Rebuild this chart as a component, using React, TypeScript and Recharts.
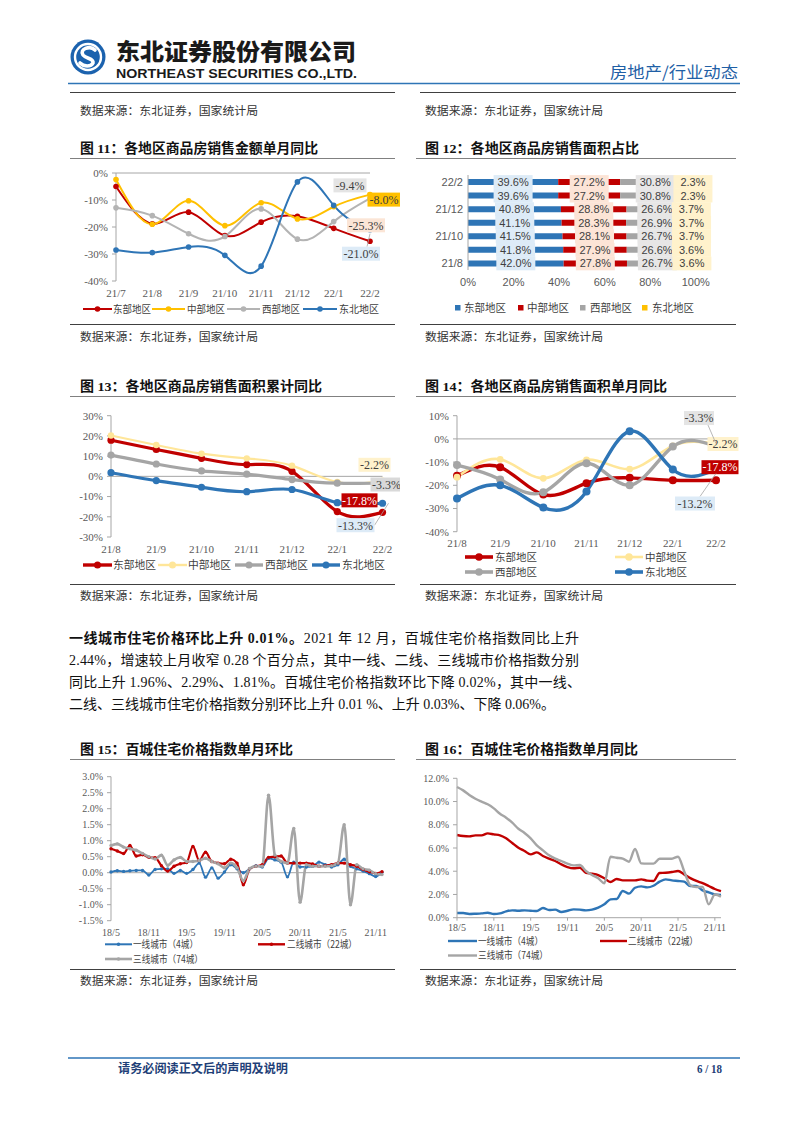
import { LineChart, Line, BarChart, Bar, XAxis, YAxis, ReferenceLine, LabelList } from 'recharts';

const SERIF = "'Liberation Serif', 'Times New Roman', 'Noto Sans CJK SC', serif";
const CJK = "'Noto Sans CJK SC', 'Noto Sans', sans-serif";
const SANS = "'Liberation Sans', Arial, 'Noto Sans CJK SC', sans-serif";

const RED = '#C00000';
const ORANGE = '#FFC000';
const PALE = '#FFE699';
const GREY = '#A5A5A5';
const BLUE = '#2E75B6';
const AXIS = '#A6A6A6';
const INK = '#595959';

const regions = ['东部地区', '中部地区', '西部地区', '东北地区'];
const tiers = ['一线城市（4城）', '二线城市（22城）', '三线城市（74城）'];
const source = '数据来源：东北证券，国家统计局';

// 图11 各地区商品房销售金额单月同比 (%)
const amtMonths = ['21/7', '21/8', '21/9', '21/10', '21/11', '21/12', '22/1', '22/2'];
const amtEast = [-5.0, -18.8, -14.5, -23.2, -18.2, -16.0, -20.5, -25.3];
const amtCentral = [-2.4, -19.0, -10.3, -19.5, -11.0, -17.0, -12.5, -8.0];
const amtWest = [-12.9, -15.8, -22.5, -23.5, -13.3, -24.5, -18.0, -9.4];
const amtNortheast = [-28.5, -29.5, -27.4, -30.5, -34.5, -3.3, -12.0, -21.0];

// 图12 各地区商品房销售面积占比 (%)
const shareMonths = ['22/2', '22/1', '21/12', '21/11', '21/10', '21/9', '21/8'];
const shareEast = [39.6, 39.6, 40.8, 41.1, 41.5, 41.8, 42.0];
const shareCentral = [27.2, 27.2, 28.8, 28.3, 28.1, 27.9, 27.8];
const shareWest = [30.8, 30.8, 26.6, 26.9, 26.7, 26.6, 26.7];
const shareNortheast = [2.3, 2.3, 3.7, 3.7, 3.7, 3.6, 3.6];

// 图13 各地区商品房销售面积累计同比 (%)
const cumMonths = ['21/8', '21/9', '21/10', '21/11', '21/12', '22/1', '22/2'];
const cumEast = [17.9, 13.3, 8.9, 5.8, 2.5, -17.4, -17.8];
const cumCentral = [20.2, 15.5, 11.2, 8.9, 5.3, -2.8, -2.2];
const cumWest = [10.5, 6.1, 2.7, 1.1, -1.6, -3.4, -3.3];
const cumNortheast = [1.8, -2.1, -5.4, -7.6, -6.5, -13.0, -13.3];

// 图14 各地区商品房销售面积单月同比 (%)
const monMonths = ['21/8', '21/9', '21/10', '21/11', '21/12', '22/1', '22/2'];
const monEast = [-15.9, -12.2, -24.0, -19.1, -16.8, -17.8, -17.8];
const monCentral = [-16.5, -8.8, -17.0, -9.0, -13.0, -3.0, -2.2];
const monWest = [-11.3, -17.5, -23.0, -10.5, -20.0, -3.3, -3.3];
const monNortheast = [-25.7, -20.0, -29.6, -22.7, 3.3, -13.2, -13.2];

// 图15/16 百城住宅价格指数
const hpiMonths = [
  '18/5', '18/6', '18/7', '18/8', '18/9', '18/10', '18/11', '18/12', '19/1', '19/2', '19/3',
  '19/4', '19/5', '19/6', '19/7', '19/8', '19/9', '19/10', '19/11', '19/12', '20/1', '20/2',
  '20/3', '20/4', '20/5', '20/6', '20/7', '20/8', '20/9', '20/10', '20/11', '20/12', '21/1',
  '21/2', '21/3', '21/4', '21/5', '21/6', '21/7', '21/8', '21/9', '21/10', '21/11', '21/12',
];
const momTicks = [-1.5, -1, -0.5, 0, 0.5, 1, 1.5, 2, 2.5, 3];
const momTier1 = [
  0.02, 0.06, 0.04, 0.06, 0.07, 0.07, -0.07, 0.1, 0.12, 0.12, -0.02, 0.07, -0.02, 0.1, 0.3,
  -0.14, 0.15, -0.17, 0.02, 0.25, 0.12, 0.0, 0.12, 0.22, 0.18, 0.45, 0.4, 0.33, -0.13, 0.33,
  0.18, 0.18, 0.2, 0.33, 0.25, 0.18, 0.25, 0.42, 0.2, 0.12, 0.05, -0.03, -0.12, 0.01,
];
const momTier2 = [
  0.75, 0.68, 0.6, 0.85, 0.52, 0.56, 0.48, 0.47, 0.22, 0.05, 0.2, 0.28, 0.32, 0.82, 0.38,
  0.64, 0.35, 0.3, 0.28, 0.42, 0.3, -0.38, 0.12, 0.2, 0.25, 0.48, 0.5, 0.52, 0.3, 0.3,
  0.3, 0.3, 0.27, 0.2, 0.22, 0.25, 0.3, 0.3, 0.25, 0.2, 0.1, 0.03, -0.02, 0.03,
];
const momTier3 = [
  0.85, 0.9, 0.8, 0.75, 0.7, 0.6, 0.5, 0.43, 0.55, 0.23, 0.4, 0.48, 0.35, 0.35, 0.38,
  0.45, 0.35, 0.28, 0.15, 0.3, 0.15, -0.25, 0.13, 0.2, 0.2, 2.42, 0.55, 0.35, 0.3, 1.38,
  -0.92, 0.25, 0.2, 0.2, 0.2, 0.22, 0.3, 1.5, -1.0, 0.25, 0.12, 0.08, -0.03, -0.06,
];
const yoyTier1 = [
  0.4, 0.4, 0.32, 0.34, 0.37, 0.43, 0.32, 0.37, 0.55, 0.63, 0.6, 0.63, 0.6, 0.57, 0.83,
  0.66, 0.69, 0.49, 0.6, 0.72, 0.69, 0.63, 0.69, 0.86, 1.15, 1.58, 1.61, 2.3, 2.07, 2.58,
  2.7, 2.61, 2.75, 3.1, 3.3, 3.21, 3.16, 3.1, 2.73, 2.73, 2.35, 2.18, 2.0, 1.96,
];
const yoyTier2 = [
  7.12, 7.03, 7.0, 7.09, 7.09, 7.26, 7.17, 7.09, 6.83, 6.43, 6.03, 5.74, 5.45, 5.62, 5.31,
  5.08, 4.88, 4.59, 4.36, 4.25, 4.3, 3.87, 3.79, 3.67, 3.39, 3.07, 3.33, 3.21, 3.21, 3.21,
  3.3, 3.19, 3.16, 3.85, 3.87, 3.93, 4.02, 3.73, 3.41, 3.16, 2.98, 2.73, 2.47, 2.29,
];
const yoyTier3 = [
  11.25, 10.96, 10.56, 10.24, 9.99, 9.76, 9.41, 8.95, 8.61, 8.18, 7.66, 7.29, 6.83, 6.23, 5.8,
  5.37, 5.08, 4.88, 4.65, 4.5, 4.53, 4.02, 3.67, 3.39, 2.96, 5.25, 5.16, 5.08, 4.82, 5.91,
  4.68, 4.65, 4.65, 5.08, 5.08, 5.08, 5.25, 4.0, 2.8, 2.64, 2.64, 1.15, 2.0, 1.81,
];

const lastOnly = (arr: number[], i: number) => (i === arr.length - 1 ? arr[i] : null);

const regionRows = (months: string[], e: number[], c: number[], w: number[], n: number[]) =>
  months.map((m, i) => ({
    m,
    east: e[i],
    central: c[i],
    west: w[i],
    ne: n[i],
    eastTag: lastOnly(e, i),
    centralTag: lastOnly(c, i),
    westTag: lastOnly(w, i),
    neTag: lastOnly(n, i),
  }));

const amtRows = regionRows(amtMonths, amtEast, amtCentral, amtWest, amtNortheast);
const cumRows = regionRows(cumMonths, cumEast, cumCentral, cumWest, cumNortheast);
const monRows = regionRows(monMonths, monEast, monCentral, monWest, monNortheast);
const shareRows = shareMonths.map((m, i) => ({
  m,
  east: shareEast[i],
  central: shareCentral[i],
  west: shareWest[i],
  ne: shareNortheast[i],
}));
const momRows = hpiMonths.map((m, i) => ({ m, t1: momTier1[i], t2: momTier2[i], t3: momTier3[i] }));
const yoyRows = hpiMonths.map((m, i) => ({ m, y1: yoyTier1[i], y2: yoyTier2[i], y3: yoyTier3[i] }));

const serifTick = { fill: INK, fontSize: 11, fontFamily: SERIF };
const smallTick = { fill: INK, fontSize: 10, fontFamily: SERIF };
const sansTick = { fill: INK, fontSize: 11, fontFamily: SANS };
const pct0 = (v: number) => `${v}%`;
const pct1 = (v: number) => `${Number(v).toFixed(1)}%`;

// 图15 plot box on the page (chart div at 70,768; margin top 8.7; x-axis 20 high)
const MOM_TOP = 768 + 8.7;
const MOM_BOTTOM = 768 + 172.7 - 20;
const MOM_LEFT = 70 + 41;

type Tag = { dx: number; dy: number; w: number; bg: string; fg?: string; lead?: number[] };

// data label box drawn next to the last point
const tag = (o: Tag) => (p: any) => {
  if (p.value == null) return null;
  const px = p.x ?? p.viewBox?.x;
  const py = p.y ?? p.viewBox?.y;
  if (px == null || py == null) return null;
  const cx = px + o.dx;
  const cy = py + o.dy;
  return (
    <g>
      {o.lead && (
        <line x1={cx + o.lead[0]} y1={cy + o.lead[1]} x2={px + o.lead[2]} y2={py + o.lead[3]} stroke="#A6A6A6" strokeWidth={0.8} />
      )}
      <rect x={cx - o.w / 2} y={cy - 7} width={o.w} height={14} fill={o.bg} />
      <text x={cx} y={cy + 4.3} textAnchor="middle" fontSize={12} fontFamily={SERIF} fill={o.fg ?? '#404040'}>
        {`${Number(p.value).toFixed(1)}%`}
      </text>
    </g>
  );
};

const barTag = (bg: string) => (p: any) => {
  const x = p.x ?? p.viewBox?.x;
  const y = p.y ?? p.viewBox?.y;
  const width = p.width ?? p.viewBox?.width;
  const height = p.height ?? p.viewBox?.height;
  if (x == null || p.value == null) return null;
  const cx = x + width / 2;
  const cy = y + height / 2;
  return (
    <g>
      <rect x={cx - 19.5} y={cy - 6.9} width={39} height={13.8} fill={bg} />
      <text x={cx} y={cy + 4} textAnchor="middle" fontSize={11} fontFamily={SANS} fill="#404040">
        {`${Number(p.value).toFixed(1)}%`}
      </text>
    </g>
  );
};

type RegionSeries = { key: string; color: string; width: number; r: number; tag: Tag };

const amtSeries: RegionSeries[] = [
  { key: 'east', color: RED, width: 2, r: 2.8, tag: { dx: -4, dy: -16, w: 38, bg: '#FBE5D6' } },
  { key: 'central', color: ORANGE, width: 2, r: 2.8, tag: { dx: 14, dy: 5, w: 33, bg: ORANGE } },
  { key: 'west', color: '#B4B4B4', width: 2, r: 2.8, tag: { dx: -20, dy: -13, w: 33, bg: '#E4E4E4' } },
  { key: 'ne', color: BLUE, width: 2, r: 2.8, tag: { dx: -9, dy: 24, w: 38, bg: '#DDEBF7', lead: [6, -7, 0, 4] } },
];

const cumSeries: RegionSeries[] = [
  { key: 'east', color: RED, width: 3.2, r: 3.6, tag: { dx: -23, dy: -12, w: 36, bg: RED, fg: '#fff' } },
  { key: 'central', color: PALE, width: 2.2, r: 3.2, tag: { dx: -8, dy: -16, w: 32, bg: '#FFF2CC' } },
  { key: 'west', color: GREY, width: 3.2, r: 3.6, tag: { dx: 4, dy: 1.5, w: 32, bg: '#D9D9D9' } },
  { key: 'ne', color: BLUE, width: 3.2, r: 3.6, tag: { dx: -27, dy: 22, w: 38, bg: '#DDEBF7', lead: [19, 0, 6, 0] } },
];

const monSeries: RegionSeries[] = [
  { key: 'east', color: RED, width: 3.4, r: 4, tag: { dx: 4, dy: -13, w: 37, bg: RED, fg: '#fff' } },
  { key: 'central', color: PALE, width: 2.6, r: 3.4, tag: { dx: 7, dy: 0, w: 31, bg: '#FFF2CC' } },
  { key: 'west', color: GREY, width: 3.4, r: 4, tag: { dx: -17, dy: -28.5, w: 30, bg: '#E4E4E4', lead: [9, 7, 0, -3] } },
  { key: 'ne', color: BLUE, width: 3.4, r: 4, tag: { dx: -21, dy: 34, w: 40, bg: '#DDEBF7', lead: [5, -7, 0, 4] } },
];

const shareSeries = [
  { key: 'east', color: BLUE, bg: '#DDEBF7' },
  { key: 'central', color: RED, bg: '#FCE4D6' },
  { key: 'west', color: GREY, bg: '#E7E6E6' },
  { key: 'ne', color: ORANGE, bg: '#FFF2CC' },
];

function regionLineElements(series: RegionSeries[]) {
  const lines = series.map((s) => (
    <Line
      key={s.key}
      type="natural"
      dataKey={s.key}
      stroke={s.color}
      strokeWidth={s.width}
      dot={{ r: s.r, fill: s.color, stroke: s.color, strokeWidth: 0 }}
      activeDot={false}
      isAnimationActive={false}
    />
  ));
  // label boxes go in a second pass so they sit on top of every line
  const tags = series.map((s) => (
    <Line
      key={`${s.key}Tag`}
      dataKey={`${s.key}Tag`}
      stroke="none"
      dot={false}
      activeDot={false}
      legendType="none"
      isAnimationActive={false}
    >
      <LabelList dataKey={`${s.key}Tag`} content={tag(s.tag)} />
    </Line>
  ));
  return [...lines, ...tags];
}

function AmountChart() {
  return (
    <LineChart width={330} height={136} data={amtRows} margin={{ top: 8, right: 30, bottom: 0, left: 0 }}>
      <XAxis dataKey="m" interval={0} axisLine={false} tickLine={false} height={20} tick={serifTick} />
      <YAxis
        domain={[-40, 0]}
        ticks={[-40, -30, -20, -10, 0]}
        interval={0}
        width={46}
        tickFormatter={pct0}
        axisLine={{ stroke: AXIS }}
        tickLine={{ stroke: AXIS }}
        tickSize={4}
        tickMargin={4}
        tick={serifTick}
      />
      <ReferenceLine y={0} stroke={AXIS} />
      {regionLineElements(amtSeries)}
    </LineChart>
  );
}

function ShareChart() {
  return (
    <BarChart layout="vertical" width={330} height={125} data={shareRows} margin={{ top: 10, right: 49, bottom: 0, left: 0 }} barSize={6}>
      <XAxis
        type="number"
        domain={[0, 100]}
        ticks={[0, 20, 40, 60, 80, 100]}
        interval={0}
        tickFormatter={pct0}
        axisLine={false}
        tickLine={false}
        height={20}
        tick={sansTick}
      />
      <YAxis
        type="category"
        dataKey="m"
        width={53}
        interval={1}
        axisLine={{ stroke: AXIS }}
        tickLine={false}
        tickSize={3}
        tickMargin={2}
        tick={sansTick}
      />
      {shareSeries.map((s) => (
        <Bar key={s.key} dataKey={s.key} stackId="a" fill={s.color} isAnimationActive={false}>
          <LabelList dataKey={s.key} content={barTag(s.bg)} />
        </Bar>
      ))}
    </BarChart>
  );
}

function CumChart() {
  return (
    <LineChart width={330} height={152} data={cumRows} margin={{ top: 10.7, right: 17.5, bottom: 0, left: 0 }}>
      <XAxis dataKey="m" interval={0} axisLine={false} tickLine={false} height={20} tick={serifTick} />
      <YAxis
        domain={[-30, 30]}
        ticks={[-30, -20, -10, 0, 10, 20, 30]}
        interval={0}
        width={41}
        tickFormatter={pct0}
        axisLine={{ stroke: AXIS }}
        tickLine={{ stroke: AXIS }}
        tickSize={4}
        tickMargin={4}
        tick={serifTick}
      />
      <ReferenceLine y={0} stroke={AXIS} />
      {regionLineElements(cumSeries)}
    </LineChart>
  );
}

function MonthlyChart() {
  return (
    <LineChart width={330} height={146.7} data={monRows} margin={{ top: 10.7, right: 29, bottom: 0, left: 0 }}>
      <XAxis dataKey="m" interval={0} axisLine={false} tickLine={false} height={20} tick={serifTick} />
      <YAxis
        domain={[-40, 10]}
        ticks={[-40, -30, -20, -10, 0, 10]}
        interval={0}
        width={42}
        tickFormatter={pct0}
        axisLine={{ stroke: AXIS }}
        tickLine={{ stroke: AXIS }}
        tickSize={4}
        tickMargin={4}
        tick={serifTick}
      />
      <ReferenceLine y={0} stroke={AXIS} />
      {regionLineElements(monSeries)}
    </LineChart>
  );
}

const tierColors = [BLUE, RED, GREY];

function MomChart() {
  const keys = ['t1', 't2', 't3'];
  const widths = [1.8, 2.2, 2.6];
  return (
    <LineChart width={330} height={172.7} data={momRows} margin={{ top: 8.7, right: 18, bottom: 0, left: 0 }}>
      <XAxis
        dataKey="m"
        scale="point"
        padding={{ left: 0, right: 0 }}
        interval={5}
        axisLine={false}
        tickLine={false}
        height={20}
        tick={smallTick}
      />
      {/* value labels for this axis are written on the page layer */}
      <YAxis domain={[-1.5, 3]} ticks={momTicks} width={41} axisLine={{ stroke: AXIS }} tickLine={false} tick={false} />
      <ReferenceLine y={0} stroke={AXIS} />
      {keys.map((k, i) => (
        <Line
          key={k}
          type="monotone"
          dataKey={k}
          stroke={tierColors[i]}
          strokeWidth={widths[i]}
          dot={{ r: 1.7, fill: tierColors[i], stroke: tierColors[i], strokeWidth: 0 }}
          activeDot={false}
          isAnimationActive={false}
        />
      ))}
    </LineChart>
  );
}

function YoyChart() {
  const keys = ['y1', 'y2', 'y3'];
  return (
    <LineChart width={330} height={169.7} data={yoyRows} margin={{ top: 10.3, right: 24, bottom: 0, left: 0 }}>
      <XAxis
        dataKey="m"
        scale="point"
        padding={{ left: 0, right: 0 }}
        interval={5}
        axisLine={{ stroke: AXIS }}
        tickLine={{ stroke: AXIS }}
        tickSize={3}
        tickMargin={3}
        height={20}
        tick={smallTick}
      />
      <YAxis
        domain={[0, 12]}
        ticks={[0, 2, 4, 6, 8, 10, 12]}
        interval={0}
        width={42}
        tickFormatter={pct1}
        axisLine={{ stroke: AXIS }}
        tickLine={{ stroke: AXIS }}
        tickSize={4}
        tickMargin={4}
        tick={smallTick}
      />
      {keys.map((k, i) => (
        <Line
          key={k}
          type="monotone"
          dataKey={k}
          stroke={tierColors[i]}
          strokeWidth={2.4}
          dot={false}
          activeDot={false}
          isAnimationActive={false}
        />
      ))}
    </LineChart>
  );
}

type LegendSpot = { x1: number; x2: number; tx: number; y: number };

function LineLegend({ spots, labels, colors, widths, r, tw, fs }: {
  spots: LegendSpot[];
  labels: string[];
  colors: string[];
  widths: number[];
  r: number;
  tw: number[];
  fs: number;
}) {
  return (
    <g>
      {spots.map((s, i) => (
        <g key={labels[i]}>
          <line x1={s.x1} y1={s.y} x2={s.x2} y2={s.y} stroke={colors[i]} strokeWidth={widths[i]} />
          {r > 0 && <circle cx={(s.x1 + s.x2) / 2} cy={s.y} r={r} fill={colors[i]} />}
          <text x={s.tx} y={s.y + fs * 0.37} fontSize={fs} fontFamily={CJK} fill="#404040" textLength={tw[i]} lengthAdjust="spacingAndGlyphs">
            {labels[i]}
          </text>
        </g>
      ))}
    </g>
  );
}

function Title({ x, y, num, text, w }: { x: number; y: number; num: number; text: string; w: number }) {
  return (
    <text x={x} y={y} fontSize={13.5} fontWeight={700} fontFamily={SERIF} fill="#111" textLength={w} lengthAdjust="spacingAndGlyphs">
      {`图 ${num}：${text}`}
    </text>
  );
}

function Source({ x, y }: { x: number; y: number }) {
  return (
    <text x={x} y={y} fontSize={11.5} fontFamily={CJK} fill="#333" textLength={178} lengthAdjust="spacingAndGlyphs">
      {source}
    </text>
  );
}

function MomAxisLabels() {
  const span = MOM_BOTTOM - MOM_TOP;
  const lo = momTicks[0];
  const hi = momTicks[momTicks.length - 1];
  return (
    <g>
      {momTicks.map((t) => {
        const y = MOM_BOTTOM - ((t - lo) / (hi - lo)) * span;
        return (
          <g key={`mt${t}`}>
            <line x1={MOM_LEFT - 4} y1={y} x2={MOM_LEFT} y2={y} stroke={AXIS} />
            <text x={MOM_LEFT - 8} y={y + 3.5} textAnchor="end" fontSize={10} fontFamily={SERIF} fill={INK}>
              {pct1(t)}
            </text>
          </g>
        );
      })}
    </g>
  );
}

function Page() {
  const L = [70, 395];
  const R = [416, 736];
  return (
    <svg width={802} height={1133} style={{ position: 'absolute', left: 0, top: 0 }}>
      {/* header */}
      <g transform="translate(88,57)">
        <circle r={17.5} fill="#1B62AE" />
        <circle r={14.2} fill="#fff" />
        <circle r={11.8} fill="#1B62AE" />
        <path d="M7 -7 C 2 -12, -9 -8, -5 -2 C -2 2, 6 1, 5 6 C 3 10, -4 10, -8 6" stroke="#fff" strokeWidth={3.6} fill="none" strokeLinecap="round" />
      </g>
      <text x={116} y={60} fontSize={23} fontWeight={900} fontFamily={CJK} fill="#1A1A1A" textLength={240} lengthAdjust="spacingAndGlyphs">
        东北证券股份有限公司
      </text>
      <text x={116} y={78} fontSize={12.5} fontWeight={700} fontFamily={SANS} fill="#1A1A1A" textLength={241} lengthAdjust="spacingAndGlyphs">
        NORTHEAST SECURITIES CO.,LTD.
      </text>
      <text x={610} y={78} fontSize={16} fontFamily={CJK} fill="#1F5FA6" textLength={128} lengthAdjust="spacingAndGlyphs">
        房地产/行业动态
      </text>
      <line x1={68} y1={83.5} x2={740} y2={83.5} stroke={BLUE} strokeWidth={1.6} />

      <line x1={L[0]} y1={92.5} x2={L[1]} y2={92.5} stroke="#404040" strokeWidth={1.2} />
      <line x1={R[0] + 4} y1={92.5} x2={R[1]} y2={92.5} stroke="#404040" strokeWidth={1.2} />
      <Source x={80} y={115} />
      <Source x={425} y={115} />

      {/* row 1 */}
      <Title x={80} y={153} num={11} text="各地区商品房销售金额单月同比" w={238} />
      <Title x={425} y={153} num={12} text="各地区商品房销售面积占比" w={214} />
      <line x1={L[0]} y1={158.5} x2={L[1]} y2={158.5} stroke="#808080" strokeWidth={1} />
      <line x1={R[0]} y1={158.5} x2={R[1]} y2={158.5} stroke="#808080" strokeWidth={1} />
      <LineLegend
        spots={[
          { x1: 83, x2: 112, tx: 113, y: 309 },
          { x1: 152, x2: 185, tx: 187, y: 309 },
          { x1: 227, x2: 260, tx: 262, y: 309 },
          { x1: 303, x2: 337, tx: 339, y: 309 },
        ]}
        labels={regions}
        colors={amtSeries.map((s) => s.color)}
        widths={[2, 2, 2, 2]}
        r={2.8}
        tw={[38, 38, 38, 40]}
        fs={10.5}
      />
      {shareSeries.map((s, i) => {
        const sq = [455, 518, 580, 642][i];
        const tx = [464, 527, 590, 652][i];
        return (
          <g key={s.key}>
            <rect x={sq} y={305} width={5.5} height={5.5} fill={s.color} />
            <text x={tx} y={311.8} fontSize={11} fontFamily={CJK} fill="#404040" textLength={42} lengthAdjust="spacingAndGlyphs">
              {regions[i]}
            </text>
          </g>
        );
      })}
      <line x1={L[0]} y1={324.5} x2={L[1]} y2={324.5} stroke="#404040" strokeWidth={1.2} />
      <line x1={R[0] + 4} y1={324.5} x2={R[1]} y2={324.5} stroke="#404040" strokeWidth={1.2} />
      <Source x={80} y={341} />
      <Source x={425} y={341} />

      {/* row 2 */}
      <Title x={80} y={391} num={13} text="各地区商品房销售面积累计同比" w={242} />
      <Title x={425} y={391} num={14} text="各地区商品房销售面积单月同比" w={242} />
      <line x1={L[0]} y1={396.5} x2={L[1]} y2={396.5} stroke="#808080" strokeWidth={1} />
      <line x1={R[0]} y1={396.5} x2={R[1]} y2={396.5} stroke="#808080" strokeWidth={1} />
      <LineLegend
        spots={[
          { x1: 83, x2: 112, tx: 113, y: 565 },
          { x1: 158, x2: 187, tx: 188, y: 565 },
          { x1: 235, x2: 263, tx: 265, y: 565 },
          { x1: 312, x2: 340, tx: 342, y: 565 },
        ]}
        labels={regions}
        colors={cumSeries.map((s) => s.color)}
        widths={[3.4, 2.4, 3.4, 3.4]}
        r={3.5}
        tw={[43, 43, 43, 43]}
        fs={11}
      />
      <LineLegend
        spots={[
          { x1: 465, x2: 493, tx: 495, y: 557 },
          { x1: 615, x2: 643, tx: 645, y: 557 },
          { x1: 465, x2: 493, tx: 495, y: 572 },
          { x1: 615, x2: 643, tx: 645, y: 572 },
        ]}
        labels={regions}
        colors={monSeries.map((s) => s.color)}
        widths={[3.6, 2.6, 3.6, 3.6]}
        r={3.8}
        tw={[42, 42, 42, 42]}
        fs={10}
      />
      <line x1={L[0]} y1={584.5} x2={L[1]} y2={584.5} stroke="#404040" strokeWidth={1.2} />
      <line x1={R[0] + 4} y1={584.5} x2={R[1]} y2={584.5} stroke="#404040" strokeWidth={1.2} />
      <Source x={80} y={600} />
      <Source x={425} y={600} />

      {/* paragraph */}
      <g fontFamily={SERIF} fontSize={14} fill="#111">
        <text x={69} y={643} textLength={510} lengthAdjust="spacing">
          <tspan fontWeight={700}>一线城市住宅价格环比上升 0.01%。</tspan>
          <tspan>2021 年 12 月，百城住宅价格指数同比上升</tspan>
        </text>
        <text x={69} y={665} textLength={510} lengthAdjust="spacing">
          2.44%，增速较上月收窄 0.28 个百分点，其中一线、二线、三线城市价格指数分别
        </text>
        <text x={69} y={687} textLength={512} lengthAdjust="spacing">
          同比上升 1.96%、2.29%、1.81%。百城住宅价格指数环比下降 0.02%，其中一线、
        </text>
        <text x={69} y={709} textLength={486} lengthAdjust="spacing">
          二线、三线城市住宅价格指数分别环比上升 0.01 %、上升 0.03%、下降 0.06%。
        </text>
      </g>

      {/* row 3 */}
      <Title x={80} y={754} num={15} text="百城住宅价格指数单月环比" w={213} />
      <Title x={425} y={754} num={16} text="百城住宅价格指数单月同比" w={213} />
      <line x1={L[0]} y1={759.5} x2={L[1]} y2={759.5} stroke="#808080" strokeWidth={1} />
      <line x1={R[0]} y1={759.5} x2={R[1]} y2={759.5} stroke="#808080" strokeWidth={1} />
      <MomAxisLabels />
      <LineLegend
        spots={[
          { x1: 105, x2: 132, tx: 133, y: 944.3 },
          { x1: 258, x2: 285, tx: 287, y: 944.3 },
          { x1: 105, x2: 132, tx: 133, y: 959 },
        ]}
        labels={tiers}
        colors={tierColors}
        widths={[2, 2.4, 2.6]}
        r={1.8}
        tw={[65, 70, 70]}
        fs={10}
      />
      <LineLegend
        spots={[
          { x1: 448, x2: 477, tx: 478, y: 941 },
          { x1: 600, x2: 627, tx: 628, y: 941 },
          { x1: 448, x2: 477, tx: 478, y: 955.5 },
        ]}
        labels={tiers}
        colors={tierColors}
        widths={[2.4, 2.4, 2.4]}
        r={0}
        tw={[65, 70, 70]}
        fs={10}
      />
      <line x1={L[0]} y1={969.5} x2={L[1]} y2={969.5} stroke="#404040" strokeWidth={1.2} />
      <line x1={R[0] + 4} y1={969.5} x2={R[1]} y2={969.5} stroke="#404040" strokeWidth={1.2} />
      <Source x={80} y={985} />
      <Source x={425} y={985} />

      {/* footer */}
      <line x1={68} y1={1058} x2={740} y2={1058} stroke={BLUE} strokeWidth={1.6} />
      <text x={118} y={1073} fontSize={12} fontWeight={700} fontFamily={CJK} fill="#1F3F78" textLength={170} lengthAdjust="spacingAndGlyphs">
        请务必阅读正文后的声明及说明
      </text>
      <text x={697} y={1073} fontSize={12} fontWeight={700} fontFamily={SERIF} fill="#1F3F78" textLength={25} lengthAdjust="spacingAndGlyphs">
        6 / 18
      </text>
    </svg>
  );
}

export default function App() {
  return (
    <div style={{ position: 'absolute', left: 0, top: 0, width: 802, height: 1133, background: '#fff', overflow: 'hidden' }}>
      <Page />
      <div style={{ position: 'absolute', left: 70, top: 165 }}>
        <AmountChart />
      </div>
      <div style={{ position: 'absolute', left: 415, top: 165 }}>
        <ShareChart />
      </div>
      <div style={{ position: 'absolute', left: 70, top: 405 }}>
        <CumChart />
      </div>
      <div style={{ position: 'absolute', left: 415, top: 405 }}>
        <MonthlyChart />
      </div>
      <div style={{ position: 'absolute', left: 70, top: 768 }}>
        <MomChart />
      </div>
      <div style={{ position: 'absolute', left: 415, top: 768 }}>
        <YoyChart />
      </div>
    </div>
  );
}
